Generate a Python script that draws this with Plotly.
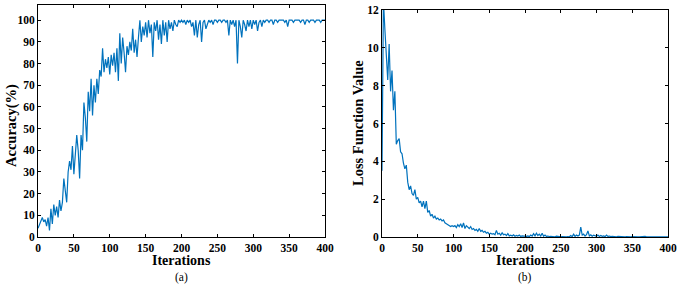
import plotly.graph_objects as go

iterations = list(range(0, 401, 2))

accuracy = [
    4, 6, 8, 9, 7, 8, 5, 9, 3, 13,
    6, 15, 10, 14, 9, 17, 12, 16, 27, 22,
    16, 30, 35, 31, 42, 29, 38, 47, 40, 27,
    47, 40, 62, 55, 44, 67, 58, 73, 56, 70,
    62, 73, 66, 77, 74, 87, 76, 82, 78, 83,
    75, 84, 79, 85, 76, 87, 72, 94, 80, 92,
    85, 76, 88, 84, 90, 86, 96, 85, 91, 83,
    92, 100, 90, 97, 93, 99, 92, 100, 94, 98,
    83, 99, 95, 100, 91, 98, 89, 100, 93, 99,
    90, 100, 96, 99, 95, 100, 98, 97, 100, 99,
    100, 99, 100, 98, 100, 99, 100, 97, 99, 93,
    100, 92, 98, 100, 90, 99, 100, 96, 98, 100,
    99, 100, 98, 100, 100, 99, 100, 100, 99, 100,
    100, 99, 100, 93, 100, 98, 100, 97, 100, 80,
    100, 97, 92, 100, 98, 95, 100, 97, 100, 96,
    100, 98, 100, 95, 99, 100, 97, 100, 99, 100,
    100, 99, 100, 100, 98, 100, 100, 99, 100, 100,
    100, 100, 99, 100, 97, 100, 100, 100, 99, 100,
    100, 100, 100, 99, 100, 100, 98, 100, 100, 99,
    100, 100, 100, 99, 100, 100, 100, 99, 100, 100,
    100,
]

loss = [
    3.5, 12.5, 11.0, 9.8, 8.3, 10.2, 7.7, 8.8, 6.7, 7.7,
    4.9, 5.1, 5.2, 4.5, 4.4, 3.9, 3.6, 3.8, 2.9, 2.5,
    2.7, 2.3, 2.2, 2.5, 2.0, 2.1, 1.8, 1.9, 1.6, 1.9,
    1.5, 1.9, 1.3, 1.4, 1.1, 1.2, 1.0, 1.1, 0.95, 1.0,
    0.9, 0.95, 0.85, 0.9, 0.75, 0.7, 0.65, 0.6, 0.55, 0.6,
    0.55, 0.6, 0.5, 0.65, 0.55, 0.7, 0.5, 0.75, 0.45, 0.6,
    0.5, 0.45, 0.55, 0.4, 0.45, 0.35, 0.4, 0.3, 0.45, 0.3,
    0.35, 0.25, 0.3, 0.2, 0.25, 0.15, 0.2, 0.15, 0.18, 0.12,
    0.35, 0.15, 0.2, 0.1, 0.22, 0.12, 0.15, 0.08, 0.18, 0.06,
    0.1, 0.05, 0.12, 0.04, 0.08, 0.05, 0.1, 0.03, 0.06, 0.04,
    0.05, 0.03, 0.06, 0.02, 0.1, 0.05, 0.18, 0.06, 0.2, 0.08,
    0.15, 0.05, 0.2, 0.04, 0.1, 0.03, 0.05, 0.02, 0.04, 0.02,
    0.03, 0.01, 0.04, 0.02, 0.03, 0.01, 0.02, 0.01, 0.03, 0.01,
    0.02, 0.01, 0.08, 0.02, 0.15, 0.03, 0.1, 0.05, 0.1, 0.52,
    0.1, 0.15, 0.05, 0.12, 0.32, 0.06, 0.12, 0.04, 0.1, 0.05,
    0.04, 0.1, 0.03, 0.08, 0.04, 0.06, 0.02, 0.1, 0.03, 0.05,
    0.02, 0.04, 0.02, 0.03, 0.01, 0.03, 0.02, 0.04, 0.01, 0.02,
    0.01, 0.02, 0.01, 0.03, 0.01, 0.02, 0.01, 0.01, 0.02, 0.01,
    0.01, 0.02, 0.01, 0.01, 0.03, 0.01, 0.01, 0.02, 0.01, 0.01,
    0.02, 0.01, 0.01, 0.02, 0.01, 0.01, 0.02, 0.01, 0.01, 0.02,
    0.01,
]

x_ticks = [0, 50, 100, 150, 200, 250, 300, 350, 400]
acc_ticks = list(range(0, 101, 10))
loss_ticks = [0, 2, 4, 6, 8, 10, 12]

W, H = 685, 285
BLUE = "#0072BD"
SERIF = "Liberation Serif, Times New Roman, serif"


def px(x):
    return x / W


def py(y):
    return 1 - y / H


fig = go.Figure()
fig.add_trace(go.Scatter(x=iterations, y=accuracy, mode="lines",
                         line=dict(color=BLUE, width=1.2), xaxis="x", yaxis="y",
                         showlegend=False))
fig.add_trace(go.Scatter(x=iterations, y=loss, mode="lines",
                         line=dict(color=BLUE, width=1.2), xaxis="x2", yaxis="y2",
                         showlegend=False, cliponaxis=True))

axis_common = dict(showline=True, linecolor="black", linewidth=1, mirror="ticks",
                   ticks="inside", ticklen=3, tickcolor="black", showgrid=False,
                   zeroline=False, automargin=False,
                   tickfont=dict(family=SERIF, size=11.5, color="black", weight="bold"))

fig.update_layout(
    width=W, height=H,
    margin=dict(l=0, r=0, t=0, b=0, autoexpand=False),
    paper_bgcolor="white", plot_bgcolor="white",
    xaxis=dict(domain=[px(38), px(325)], range=[0, 400], tickvals=x_ticks,
               anchor="y", **axis_common),
    yaxis=dict(domain=[py(237), py(5)], range=[0, 107], tickvals=acc_ticks,
               anchor="x", **axis_common),
    xaxis2=dict(domain=[px(382), px(668)], range=[0, 400], tickvals=x_ticks,
                anchor="y2", **axis_common),
    yaxis2=dict(domain=[py(237), py(10)], range=[0, 12], tickvals=loss_ticks,
                anchor="x2", **axis_common),
)


def ann(text, x, y, size, bold=True, angle=0):
    fig.add_annotation(text=text, x=px(x), y=py(y), xref="paper", yref="paper",
                       showarrow=False, textangle=angle, xanchor="center", yanchor="middle",
                       font=dict(family=SERIF, size=size, color="black",
                                 weight="bold" if bold else "normal"))


ann("Iterations", 181, 260, 14)
ann("Iterations", 525, 260, 14)
ann("(a)", 181, 277, 11.5, bold=False)
ann("(b)", 525, 277, 11.5, bold=False)
ann("Accuracy(%)", 11, 126, 14.5, angle=-90)
ann("Loss Function Value", 358, 123, 14.5, angle=-90)

fig.write_html("out.html",
               config={"displayModeBar": False},
               post_script="document.body.style.margin='0';document.body.style.overflow='hidden';")
